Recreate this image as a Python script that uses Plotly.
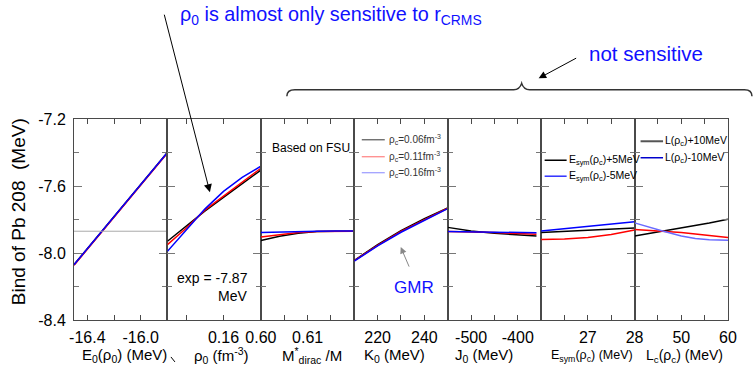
import plotly.graph_objects as go

# ---------------- data ----------------
y_range = [-8.4, -7.2]
y_tickvals = [-7.2, -7.6, -8.0, -8.4]
y_ticktext = ["-7.2", "-7.6", "-8.0", "-8.4"]
y_minor = [-7.4, -7.8, -8.2]
EXP_BIND = -7.87

# panel 1: E0(rho0)
e0_x = [-16.5, -15.8]
e0_black = [-8.07, -7.40]
e0_red = [-8.073, -7.403]
e0_blue = [-8.07, -7.40]

# panel 2: rho0
rho_x = [0.145, 0.150, 0.155, 0.160, 0.165, 0.170]
rho_black = [-7.930, -7.838, -7.750, -7.668, -7.585, -7.505]
rho_red = [-7.950, -7.852, -7.744, -7.660, -7.575, -7.494]
rho_blue = [-7.990, -7.864, -7.738, -7.632, -7.549, -7.482]

# panel 3: M*dirac/M
m_x = [0.600, 0.604, 0.608, 0.612, 0.616, 0.620]
m_black = [-7.925, -7.900, -7.882, -7.872, -7.870, -7.870]
m_red = [-7.905, -7.890, -7.878, -7.872, -7.870, -7.870]
m_blue = [-7.878, -7.874, -7.871, -7.870, -7.869, -7.869]

# panel 4: K0
k_x = [210, 220, 230, 240, 250]
k_black = [-8.044, -7.950, -7.866, -7.795, -7.731]
k_red = [-8.046, -7.954, -7.871, -7.800, -7.733]
k_blue = [-8.048, -7.958, -7.876, -7.804, -7.735]

# panel 5: J0
j_x = [-550, -500, -450, -400, -360]
j_black = [-7.847, -7.868, -7.882, -7.892, -7.899]
j_red = [-7.872, -7.874, -7.878, -7.884, -7.888]
j_blue = [-7.872, -7.873, -7.875, -7.877, -7.879]

# panel 6: Esym(rho_c)
es_x = [26, 26.5, 27, 27.5, 28]
es_black = [-7.877, -7.870, -7.863, -7.857, -7.850]
es_red = [-7.919, -7.917, -7.908, -7.890, -7.863]
es_blue = [-7.869, -7.855, -7.842, -7.828, -7.814]

# panel 7: L(rho_c)
l_x = [40, 43, 46, 50, 53, 56, 60]
l_black = [-7.899, -7.885, -7.870, -7.851, -7.836, -7.821, -7.798]
l_red = [-7.859, -7.864, -7.869, -7.878, -7.886, -7.895, -7.907]
l_blue = [-7.820, -7.845, -7.869, -7.898, -7.913, -7.921, -7.924]

x_ranges = [[-16.5, -15.8], [0.145, 0.17], [0.59999, 0.62], [210, 250],
            [-550, -350], [26, 28.0001], [40, 60.0001]]
x_tickvals = [[-16.4, -16.2, -16.0], [0.15, 0.16], [0.60, 0.605, 0.61, 0.615],
              [220, 230, 240], [-500, -450, -400], [26.5, 27, 27.5, 28],
              [45, 50, 55, 60]]
x_ticktext = [["-16.4", "", "-16.0"], ["", "0.16"], ["0.60", "", "0.61", ""],
              ["220", "", "240"], ["-500", "", "-400"], ["", "27", "", "28"],
              ["", "50", "", "60"]]
x_titles = ["E<sub>0</sub>(ρ<sub>0</sub>) (MeV)", "ρ<sub>0</sub> (fm<sup>-3</sup>)",
            "M<sup>*</sup><sub>dirac</sub> /M", "K<sub>0</sub> (MeV)", "J<sub>0</sub> (MeV)",
            "E<sub>sym</sub>(ρ<sub>c</sub>) (MeV)", "L<sub>c</sub>(ρ<sub>c</sub>) (MeV)"]
x_title_px = [125, 222, 312, 395, 484, 592, 685]
x_title_size = [15, 15, 15, 15, 15, 12.5, 14]

series = [
    (e0_x, e0_black, e0_red, e0_blue),
    (rho_x, rho_black, rho_red, rho_blue),
    (m_x, m_black, m_red, m_blue),
    (k_x, k_black, k_red, k_blue),
    (j_x, j_black, j_red, j_blue),
    (es_x, es_black, es_red, es_blue),
    (l_x, l_black, l_red, l_blue),
]

# ---------------- layout geometry ----------------
W, H = 754, 365
PL, PR, PT, PB = 74, 728.5, 118.7, 320
FONT = "Liberation Sans, Arial, sans-serif"
AX = "#4a4a4a"


def px(x):
    return (x - PL) / (PR - PL)


def py(y):
    return (PB - y) / (PB - PT)


fig = go.Figure()

for i, (xs, yb, yr, yblu) in enumerate(series):
    sfx = "" if i == 0 else str(i + 1)
    blue_col = "#6a6aff" if i == 6 else "#0000ff"
    for ys, col in ((yb, "#000000"), (yr, "#ff0000"), (yblu, blue_col)):
        fig.add_trace(go.Scatter(x=xs, y=ys, mode="lines", line=dict(color=col, width=1.5),
                                 xaxis="x" + sfx, yaxis="y" + sfx, showlegend=False,
                                 hoverinfo="skip"))

# experimental reference line in panel 1
fig.add_trace(go.Scatter(x=e0_x, y=[EXP_BIND, EXP_BIND], mode="lines",
                         line=dict(color="#aaaaaa", width=1), xaxis="x", yaxis="y",
                         showlegend=False, hoverinfo="skip"))

layout = dict(
    width=W, height=H,
    margin=dict(l=PL, r=W - PR, t=PT, b=H - PB, pad=0),
    paper_bgcolor="white", plot_bgcolor="white",
    font=dict(family=FONT, color="black"),
    showlegend=False,
)

for i in range(7):
    sfx = "" if i == 0 else str(i + 1)
    layout["xaxis" + sfx] = dict(
        domain=[i / 7, (i + 1) / 7], range=x_ranges[i],
        tickmode="array", tickvals=x_tickvals[i], ticktext=x_ticktext[i],
        ticks="inside", ticklen=5, tickwidth=1, tickcolor=AX,
        showline=True, linecolor=AX, linewidth=1, mirror="ticks",
        showgrid=False, zeroline=False, anchor="y" + sfx,
        tickfont=dict(size=16, color="black", family=FONT),
        ticklabelstandoff=3,
    )
    layout["yaxis" + sfx] = dict(
        domain=[0, 1], range=y_range,
        tickmode="array", tickvals=y_tickvals, ticktext=y_ticktext,
        ticks="inside", ticklen=8, tickwidth=1, tickcolor="#777777",
        minor=dict(tickvals=y_minor, ticks="inside", ticklen=5, tickcolor="#777777"),
        showline=True, linecolor=AX, linewidth=1, mirror="ticks",
        showgrid=False, zeroline=False, anchor="x" + sfx,
        showticklabels=(i == 0),
        tickfont=dict(size=16, color="black", family=FONT),
        ticklabelstandoff=4,
    )

fig.update_layout(**layout)

ann = []
# x-axis titles
for t, xp, fs in zip(x_titles, x_title_px, x_title_size):
    ann.append(dict(text=t, x=px(xp), y=py(356), xref="paper", yref="paper",
                    xanchor="center", yanchor="middle", showarrow=False,
                    font=dict(size=fs, family=FONT, color="black")))
# y title
ann.append(dict(text="Bind of Pb 208\u00a0 (MeV)", x=px(18), y=py(212), xref="paper", yref="paper",
                xanchor="center", yanchor="middle", showarrow=False, textangle=-90,
                font=dict(size=19, family=FONT, color="black")))
BLUE = "#1010ff"
# top blue annotations
ann.append(dict(text="ρ<sub>0</sub> is almost only sensitive to r<sub>CRMS</sub>", x=px(178), y=py(15),
                xref="paper", yref="paper", xanchor="left", yanchor="middle", showarrow=False,
                font=dict(size=19.8, family=FONT, color=BLUE)))
ann.append(dict(text="not sensitive", x=px(587), y=py(53),
                xref="paper", yref="paper", xanchor="left", yanchor="middle", showarrow=False,
                font=dict(size=20.5, family=FONT, color=BLUE)))
ann.append(dict(text="GMR", x=px(414), y=py(287),
                xref="paper", yref="paper", xanchor="center", yanchor="middle", showarrow=False,
                font=dict(size=17, family=FONT, color=BLUE)))
ann.append(dict(text="Based on FSU", x=px(270), y=py(148),
                xref="paper", yref="paper", xanchor="left", yanchor="middle", showarrow=False,
                font=dict(size=12, family=FONT, color="black")))
ann.append(dict(text="exp = -7.87", x=px(250), y=py(278),
                xref="paper", yref="paper", xanchor="right", yanchor="middle", showarrow=False,
                font=dict(size=14, family=FONT, color="black")))
ann.append(dict(text="MeV", x=px(249), y=py(296),
                xref="paper", yref="paper", xanchor="right", yanchor="middle", showarrow=False,
                font=dict(size=14, family=FONT, color="black")))

# arrows (head at x,y; tail offset ax, ay in px)
def arrow(hx, hy, tx, ty, color="black", width=1, size=1.3, head=2):
    return dict(text="", x=px(hx), y=py(hy), xref="paper", yref="paper",
                ax=tx - hx, ay=ty - hy, showarrow=True, arrowhead=head,
                arrowsize=size, arrowwidth=width, arrowcolor=color, standoff=0, startstandoff=0)

ann.append(arrow(210, 192, 164, 13, size=1.6))
ann.append(arrow(539, 78, 578, 57, size=1.5))
ann.append(arrow(401, 247, 410, 268, color="#888888", size=1.3))

# legends (text parts)
leg4 = ["ρ<sub>c</sub>=0.06fm<sup>-3</sup>", "ρ<sub>c</sub>=0.11fm<sup>-3</sup>",
        "ρ<sub>c</sub>=0.16fm<sup>-3</sup>"]
leg4_y = [139.5, 156.5, 172.5]
leg4_col = ["#555555", "#ff8080", "#9a9aff"]
for t, yy in zip(leg4, leg4_y):
    ann.append(dict(text=t, x=px(387), y=py(yy), xref="paper", yref="paper",
                    xanchor="left", yanchor="middle", showarrow=False,
                    font=dict(size=10, family=FONT, color="#333333")))
leg6 = ["E<sub>sym</sub>(ρ<sub>c</sub>)+5MeV", "E<sub>sym</sub>(ρ<sub>c</sub>)-5MeV"]
leg6_y = [160, 176]
leg6_col = ["#000000", "#3030ff"]
for t, yy in zip(leg6, leg6_y):
    ann.append(dict(text=t, x=px(567), y=py(yy), xref="paper", yref="paper",
                    xanchor="left", yanchor="middle", showarrow=False,
                    font=dict(size=10.5, family=FONT, color="black")))
leg7 = ["L(ρ<sub>c</sub>)+10MeV", "L(ρ<sub>c</sub>)-10MeV"]
leg7_y = [141, 157.5]
leg7_col = ["#555555", "#0000cc"]
for t, yy in zip(leg7, leg7_y):
    ann.append(dict(text=t, x=px(663.5), y=py(yy), xref="paper", yref="paper",
                    xanchor="left", yanchor="middle", showarrow=False,
                    font=dict(size=10.5, family=FONT, color="black")))

shapes = []
for yy, c in zip(leg4_y, leg4_col):
    shapes.append(dict(type="line", xref="paper", yref="paper", x0=px(362), x1=px(385),
                       y0=py(yy), y1=py(yy), line=dict(color=c, width=1.2)))
for yy, c in zip(leg6_y, leg6_col):
    shapes.append(dict(type="line", xref="paper", yref="paper", x0=px(545), x1=px(567),
                       y0=py(yy), y1=py(yy), line=dict(color=c, width=1.5)))
for yy, c, w in zip(leg7_y, leg7_col, [2, 1.5]):
    shapes.append(dict(type="line", xref="paper", yref="paper", x0=px(641), x1=px(663.5),
                       y0=py(yy), y1=py(yy), line=dict(color=c, width=w)))

# brace over panels
pts = lambda x, y: f"{px(x):.5f},{py(y):.5f}"
brace = ("M " + pts(287, 96) + " Q " + pts(287, 89.3) + " " + pts(295, 89.3) +
         " L " + pts(514, 89.3) + " Q " + pts(520, 89.3) + " " + pts(522, 83) +
         " Q " + pts(524, 89.3) + " " + pts(530, 89.3) +
         " L " + pts(745, 89.3) + " Q " + pts(752.5, 89.3) + " " + pts(752.5, 96))
shapes.append(dict(type="path", xref="paper", yref="paper", path=brace,
                   line=dict(color="#333333", width=1.5)))
# small arrow fragment at bottom
shapes.append(dict(type="line", xref="paper", yref="paper", x0=px(171), y0=py(357),
                   x1=px(175), y1=py(362), line=dict(color="black", width=1)))

fig.update_layout(annotations=ann, shapes=shapes)
fig.write_html("out.html", config={"displayModeBar": False},
               post_script="document.body.style.margin='0';document.body.style.overflow='hidden';")
